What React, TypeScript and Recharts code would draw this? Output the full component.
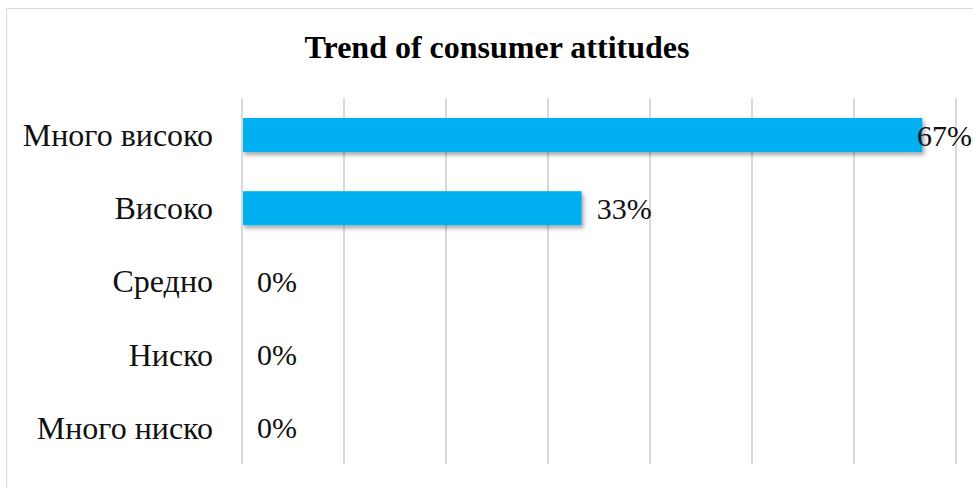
import React from "react";
import {
  BarChart,
  Bar,
  XAxis,
  YAxis,
  CartesianGrid,
} from "recharts";

const categories = ["Много високо", "Високо", "Средно", "Ниско", "Много ниско"];
const shares = [66.7, 33.3, 0, 0, 0];
const xTicks = [0, 10, 20, 30, 40, 50, 60, 70];

const data = categories.map((name, i) => ({ name, value: shares[i] }));

const FONT = '"Liberation Serif", "Times New Roman", serif';

// bar + Excel-style "outside end" label (pulled back in when it would run off the plot)
const BarWithLabel = (props: any) => {
  const { x, y, width, height, value, fill } = props;
  const v = Array.isArray(value) ? value[1] - value[0] : value;
  const end = x + (width || 0);
  const lx = Math.min(end + 15, 917);
  return (
    <g>
      {width > 0 && (
        <rect
          x={x}
          y={y}
          width={width}
          height={height}
          fill={fill}
          filter="url(#barShadow)"
        />
      )}
      <text
        x={lx}
        y={y + height / 2}
        dy="0.35em"
        fill="#111"
        fontSize={30}
        fontFamily={FONT}
      >
        {Math.round(v)}%
      </text>
    </g>
  );
};

const App: React.FC = () => {
  return (
    <div
      style={{
        position: "absolute",
        left: 0,
        top: 0,
        width: 973,
        height: 488,
        background: "#fff",
        overflow: "hidden",
      }}
    >
      {/* Chart frame */}
      <div
        style={{
          position: "absolute",
          left: 6,
          top: 8,
          width: 990,
          height: 500,
          border: "1px solid #d9d9d9",
        }}
      />

      {/* Title */}
      <div
        style={{
          position: "absolute",
          left: 6,
          top: 31,
          width: 982,
          textAlign: "center",
          fontFamily: FONT,
          fontWeight: "bold",
          fontSize: 32,
          lineHeight: "32px",
          color: "#000",
        }}
      >
        Trend of consumer attitudes
      </div>

      <div style={{ position: "absolute", left: 0, top: 0 }}>
        <svg width={0} height={0} style={{ position: "absolute" }}>
          <defs>
            <filter id="barShadow" x="-5%" y="-20%" width="110%" height="160%">
              <feDropShadow dx="2" dy="3" stdDeviation="2" floodColor="#000" floodOpacity="0.35" />
            </filter>
          </defs>
        </svg>
        <BarChart
          width={973}
          height={488}
          data={data}
          layout="vertical"
          margin={{ top: 98, right: 17, bottom: 24, left: 0 }}
        >
          <CartesianGrid horizontal={false} stroke="#d9d9d9" strokeWidth={2} />
          <XAxis type="number" domain={[0, 70]} ticks={xTicks} hide />
          <YAxis
            type="category"
            dataKey="name"
            width={242}
            tickSize={0}
            tickMargin={29}
            axisLine={{ stroke: "#d9d9d9", strokeWidth: 2 }}
            tickLine={false}
            tick={{ fontSize: 32, fill: "#111", fontFamily: FONT }}
          />
          <Bar
            dataKey="value"
            fill="#00B0F0"
            barSize={34}
            isAnimationActive={false}
            shape={BarWithLabel}
          />
        </BarChart>
      </div>
    </div>
  );
};

export default App;
